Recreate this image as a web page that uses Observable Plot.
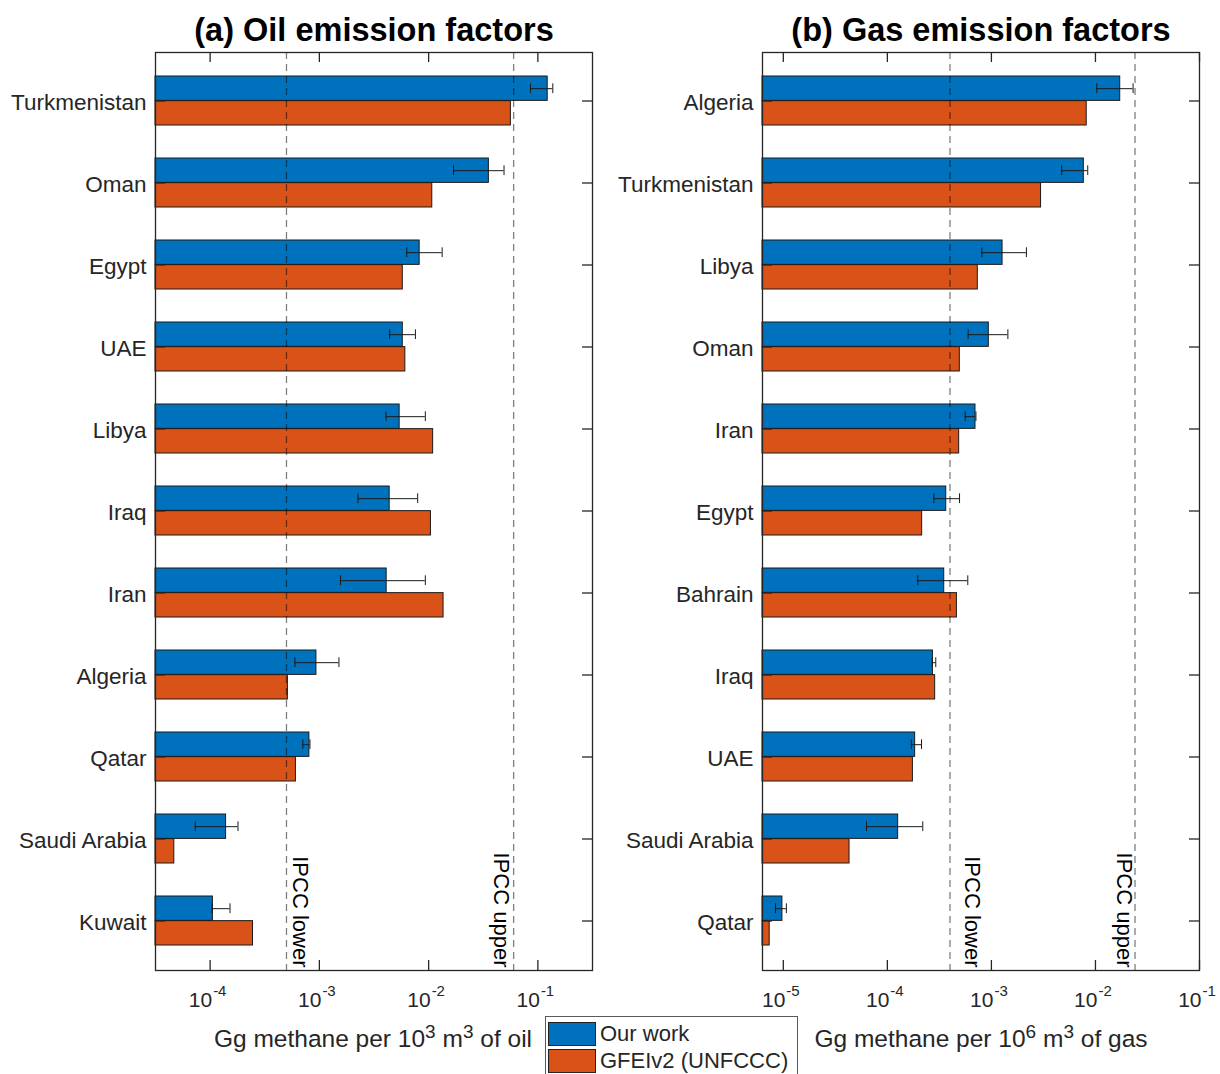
<!DOCTYPE html>
<html>
<head>
<meta charset="utf-8">
<script src="https://cdn.jsdelivr.net/npm/d3@7"></script>
<script src="https://cdn.jsdelivr.net/npm/@observablehq/plot@0.6"></script>
<style>
  html, body { margin: 0; padding: 0; background: white; }
  #root { position: relative; width: 1220px; height: 1074px; overflow: hidden; background: white;
          font-family: "Liberation Sans", Arial, Helvetica, sans-serif; color: #262626; }
  .panel { position: absolute; top: 0; }
  .xlabel { position: absolute; width: 440px; text-align: center; font-size: 24.5px; line-height: 28px; white-space: nowrap; }
  .xlabel sup { font-size: 19px; line-height: 0; vertical-align: 0.45em; }
  #legend { position: absolute; left: 545px; top: 1016px; width: 251px; height: 62px; border: 1px solid #5a5a5a; background: white; }
  .lrow { position: absolute; left: 2px; height: 26px; display: flex; align-items: center; font-size: 22px; }
  .sw { width: 48px; height: 24px; border: 1px solid #222; box-sizing: border-box; margin-right: 4px; }
</style>
</head>
<body>
<div id="root">
  <div id="pa" class="panel" style="left:0px"></div>
  <div id="pb" class="panel" style="left:610px"></div>
  <div id="xla" class="xlabel" style="left:153px; top:1025px"></div>
  <div id="xlb" class="xlabel" style="left:761px; top:1025px"></div>
  <div id="legend"></div>
</div>
<script>
// ---------- data ----------
const seriesNames = ["Our work", "GFEIv2 (UNFCCC)"];
const seriesColors = ["#0072BD", "#D95319"];

const oilCountries = ["Turkmenistan","Oman","Egypt","UAE","Libya","Iraq","Iran","Algeria","Qatar","Saudi Arabia","Kuwait"];
const oilOurs  = [0.123, 0.0356, 0.00828, 0.0058, 0.00543, 0.0044, 0.00413, 0.00094, 0.00081, 0.00014, 0.000106];
const oilLo    = [0.0855, 0.0169, 0.0063, 0.0044, 0.00408, 0.00226, 0.00156, 0.000597, 0.000706, 0.000073, 0.000104];
const oilHi    = [0.137, 0.049, 0.0133, 0.00757, 0.00933, 0.00794, 0.00933, 0.00151, 0.00082, 0.00018, 0.000152];
const oilGfei  = [0.0566, 0.0108, 0.0058, 0.00612, 0.011, 0.0105, 0.0137, 0.000515, 0.00061, 0.000047, 0.000247];
const oilIpcc  = [0.0005, 0.06];

const gasCountries = ["Algeria","Turkmenistan","Libya","Oman","Iran","Egypt","Bahrain","Iraq","UAE","Saudi Arabia","Qatar"];
const gasOurs  = [0.0173, 0.00773, 0.00128, 0.000944, 0.000703, 0.000368, 0.000352, 0.000274, 0.000185, 0.000127, 0.0000098];
const gasLo    = [0.0103, 0.00474, 0.00081, 0.000598, 0.00056, 0.00028, 0.000196, 0.00027, 0.00017, 0.000063, 0.0000084];
const gasHi    = [0.023, 0.00843, 0.00217, 0.00144, 0.00071, 0.000494, 0.000593, 0.000292, 0.000213, 0.000219, 0.0000107];
const gasGfei  = [0.00824, 0.0030, 0.00074, 0.000497, 0.00049, 0.000216, 0.000466, 0.000288, 0.000176, 0.0000433, 0.0000074];
const gasIpcc  = [0.0004, 0.024];

const ipccLabels = ["IPCC lower", "IPCC upper"];

const oilTicks = [1e-4, 1e-3, 1e-2, 1e-1];
const oilExps  = ["-4", "-3", "-2", "-1"];
const gasTicks = [1e-5, 1e-4, 1e-3, 1e-2, 1e-1];
const gasExps  = ["-5", "-4", "-3", "-2", "-1"];

const titles = ["(a) Oil emission factors", "(b) Gas emission factors"];

// ---------- drawing ----------
const W = 610, H = 1010, MT = 52, MB = 40;
const FONT = "Liberation Sans, Arial, Helvetica, sans-serif";
const AX = "#262626";

function panel({countries, ours, lo, hi, gfei, ipcc, ipccDx, domain, ticks, exps, title, ml, mr}) {
  const frameW = W - ml - mr, frameH = H - MT - MB;
  const PI = 0.4, PO = 0.29;
  const step = frameH / (countries.length - PI + 2 * PO);
  const bw = step * (1 - PI);
  const rows = countries.map((c, i) => ({country: c, ours: ours[i], lo: lo[i], hi: hi[i], gfei: gfei[i]}));
  const tickRows = ticks.map((v, i) => ({v, e: exps[i]}));
  const xmin = domain[0];
  const capHalf = 5;
  return Plot.plot({
    width: W, height: H,
    marginLeft: ml, marginRight: mr, marginTop: MT, marginBottom: MB,
    style: {fontFamily: FONT, color: AX, background: "white", overflow: "visible"},
    x: {type: "log", domain, axis: null},
    y: {domain: countries, paddingInner: PI, paddingOuter: PO, axis: null},
    marks: [
      Plot.barX(rows, {y: "country", x1: xmin, x2: "ours", fill: seriesColors[0], stroke: "#1a1a1a", strokeWidth: 1, insetBottom: bw / 2}),
      Plot.barX(rows, {y: "country", x1: xmin, x2: "gfei", fill: seriesColors[1], stroke: "#1a1a1a", strokeWidth: 1, insetTop: bw / 2}),
      // error bars
      Plot.ruleY(rows, {y: "country", x1: "lo", x2: "hi", dy: -bw / 4, stroke: "#1a1a1a", strokeWidth: 1}),
      Plot.tickX(rows, {y: "country", x: "lo", insetTop: bw / 4 - capHalf, insetBottom: bw * 3 / 4 - capHalf, stroke: "#1a1a1a", strokeWidth: 1}),
      Plot.tickX(rows, {y: "country", x: "hi", insetTop: bw / 4 - capHalf, insetBottom: bw * 3 / 4 - capHalf, stroke: "#1a1a1a", strokeWidth: 1}),
      // IPCC lines
      Plot.ruleX(ipcc, {stroke: "black", strokeOpacity: 0.5, strokeWidth: 1.3, strokeDasharray: "7,5"}),
      Plot.text([ipccLabels[0]], {x: ipcc[0], frameAnchor: "bottom", rotate: 90, textAnchor: "end", lineAnchor: "middle", dx: ipccDx[0], dy: -3, fontSize: 22, fill: "black"}),
      Plot.text([ipccLabels[1]], {x: ipcc[1], frameAnchor: "bottom", rotate: 90, textAnchor: "end", lineAnchor: "middle", dx: ipccDx[1], dy: -3, fontSize: 22, fill: "black"}),
      // frame and ticks
      Plot.frame({stroke: AX, strokeWidth: 1.3}),
      Plot.ruleX(ticks, {x: d => d, insetTop: frameH - 10, stroke: AX, strokeWidth: 1.3}),
      Plot.ruleX(ticks, {x: d => d, insetBottom: frameH - 10, stroke: AX, strokeWidth: 1.3}),
      Plot.ruleY(countries, {y: d => d, insetLeft: frameW - 10, stroke: AX, strokeWidth: 1.3}),
      Plot.ruleY(countries, {y: d => d, insetRight: frameW - 10, stroke: AX, strokeWidth: 1.3}),
      // category labels
      Plot.text(countries, {y: d => d, text: d => d, frameAnchor: "left", textAnchor: "end", dx: -9, dy: 2, fontSize: 22.5, fill: AX}),
      // x tick labels 10^n
      Plot.text(tickRows, {x: "v", text: () => "10", frameAnchor: "bottom", lineAnchor: "middle", textAnchor: "end", dx: 2, dy: 30, fontSize: 21, fill: AX}),
      Plot.text(tickRows, {x: "v", text: "e", frameAnchor: "bottom", lineAnchor: "middle", textAnchor: "start", dx: 3, dy: 21, fontSize: 15, fill: AX}),
      // title
      Plot.text([title], {frameAnchor: "top", lineAnchor: "middle", dy: -22, fontSize: 32.5, fontWeight: "bold", fill: "black"})
    ]
  });
}

document.getElementById("pa").appendChild(panel({
  countries: oilCountries, ours: oilOurs, lo: oilLo, hi: oilHi, gfei: oilGfei,
  ipcc: oilIpcc, ipccDx: [14, -13], domain: [Math.pow(10, -4.5), Math.pow(10, -0.5)],
  ticks: oilTicks, exps: oilExps, title: titles[0], ml: 155, mr: 18
}));
document.getElementById("pb").appendChild(panel({
  countries: gasCountries, ours: gasOurs, lo: gasLo, hi: gasHi, gfei: gasGfei,
  ipcc: gasIpcc, ipccDx: [22, -11], domain: [Math.pow(10, -5.2), 0.1],
  ticks: gasTicks, exps: gasExps, title: titles[1], ml: 152, mr: 21
}));

document.getElementById("xla").innerHTML = "Gg methane per 10<sup>3</sup> m<sup>3</sup> of oil";
document.getElementById("xlb").innerHTML = "Gg methane per 10<sup>6</sup> m<sup>3</sup> of gas";

const legend = document.getElementById("legend");
seriesNames.forEach((name, i) => {
  const row = document.createElement("div");
  row.className = "lrow";
  row.style.top = (4 + i * 27) + "px";
  const sw = document.createElement("div");
  sw.className = "sw";
  sw.style.background = seriesColors[i];
  const t = document.createElement("span");
  t.textContent = name;
  row.appendChild(sw);
  row.appendChild(t);
  legend.appendChild(row);
});
</script>
</body>
</html>
